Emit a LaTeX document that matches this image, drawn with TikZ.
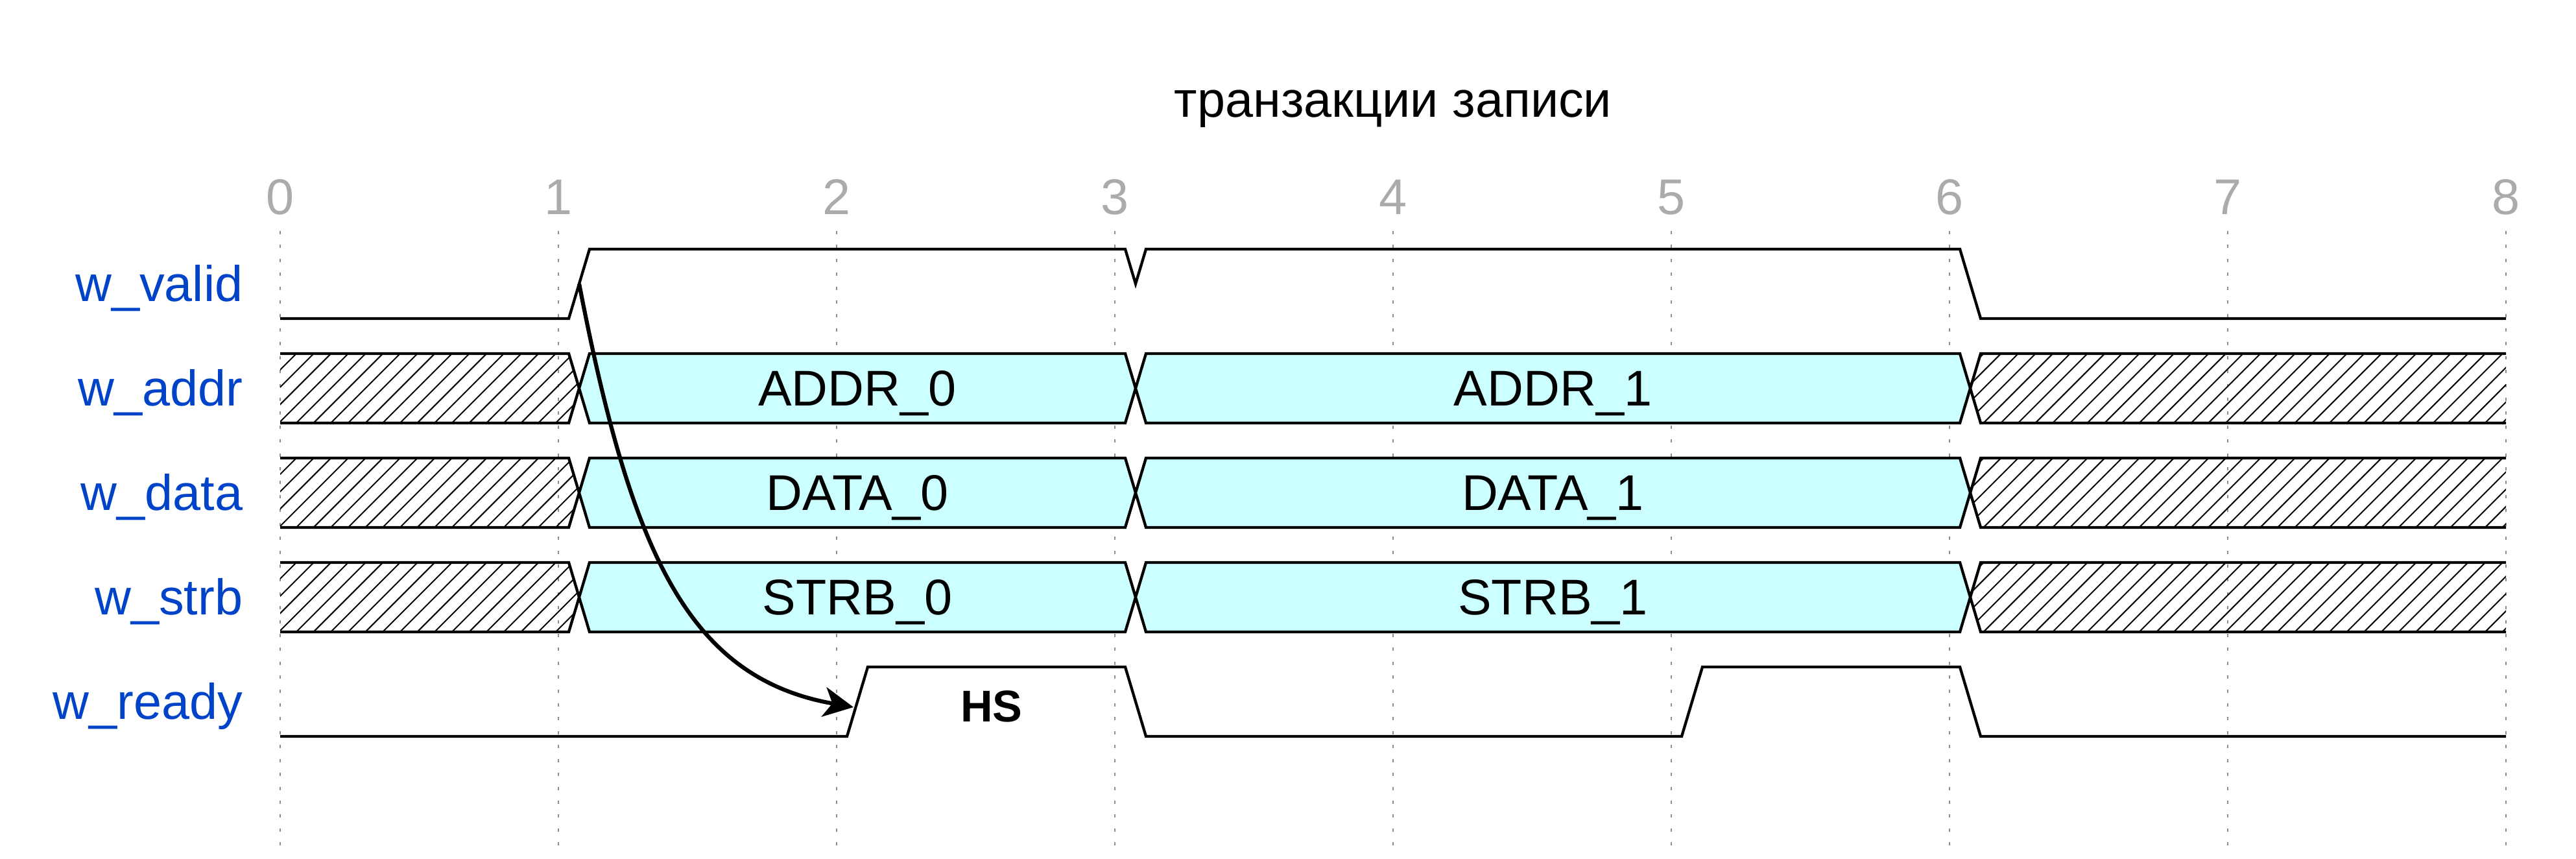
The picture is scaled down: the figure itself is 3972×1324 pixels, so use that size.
\documentclass[tikz,border=0pt]{standalone}
\usepackage{fontspec}
\setmainfont{Liberation Sans}
\usetikzlibrary{arrows.meta}
\definecolor{sigblue}{HTML}{0042C8}
\definecolor{tickgray}{HTML}{ABABAB}
\definecolor{gridgray}{HTML}{8C8C8C}
\definecolor{buscyan}{HTML}{CCFFFF}
\begin{document}
\begin{tikzpicture}[x=0.01cm,y=0.01cm,
  sig/.style={line width=0.043cm, line join=miter},
  hatchline/.style={line width=0.02cm},
  gridline/.style={gridgray, line width=0.022cm, dash pattern=on 0.05cm off 0.164cm},
  lbl/.style={text=sigblue, anchor=base east, inner sep=0pt, font=\fontsize{22pt}{26pt}\selectfont},
  ticklbl/.style={text=tickgray, anchor=base, inner sep=0pt, font=\fontsize{22pt}{26pt}\selectfont},
  val/.style={anchor=base, inner sep=0pt, font=\fontsize{22pt}{26pt}\selectfont},
  ttl/.style={anchor=base, inner sep=0pt, font=\fontsize{22pt}{26pt}\selectfont},
  hs/.style={anchor=base, inner sep=0pt, font=\bfseries\fontsize{19.5pt}{24pt}\selectfont},
  arr/.style={line width=0.062cm, -{Stealth[length=0.46cm,width=0.46cm,inset=0.13cm]}},
]
\useasboundingbox (0,0) rectangle (3972,-1324);

% title
\node[ttl] (title) at (2148,-180) {транзакции записи};

% time ticks and grid
\foreach \t in {0,...,8}{
  \node[ticklbl] (tick\t) at ({432+429*\t},-330) {\t};
  \draw[gridline] ({432+429*\t},-356) -- ({432+429*\t},-1312);
}

% signal names
\node[lbl] (lvalid) at (375,-464.5) {w\_valid};
\node[lbl] (laddr) at (375,-625.5) {w\_addr};
\node[lbl] (ldata) at (375,-786.5) {w\_data};
\node[lbl] (lstrb) at (375,-947.5) {w\_strb};
\node[lbl] (lready) at (375,-1108.5) {w\_ready};

% w_valid
\draw[sig] (432,-491) -- (877,-491) -- (909,-384) -- (1735,-384) -- (1751,-437.5)
  -- (1767,-384) -- (3022,-384) -- (3054,-491) -- (3864,-491);

% buses
\foreach \T/\nm/\va/\vb in {545/addr/ADDR\_0/ADDR\_1, 706/data/DATA\_0/DATA\_1, 867/strb/STRB\_0/STRB\_1}{
  \pgfmathsetmacro{\B}{\T+107}
  \pgfmathsetmacro{\M}{\T+53.5}
  % left hatched
  \begin{scope}
    \clip (432,-\T) -- (877,-\T) -- (893,-\M) -- (877,-\B) -- (432,-\B) -- cycle;
    \foreach \k in {0,...,22}{
      \draw[hatchline] ({350+26.67*\k},-\B) -- ++(120,120);
    }
  \end{scope}
  \draw[sig] (432,-\T) -- (877,-\T) -- (893,-\M) -- (877,-\B) -- (432,-\B);
  % right hatched
  \begin{scope}
    \clip (3864,-\T) -- (3054,-\T) -- (3038,-\M) -- (3054,-\B) -- (3864,-\B) -- cycle;
    \foreach \k in {0,...,40}{
      \draw[hatchline] ({2925+26.67*\k},-\B) -- ++(120,120);
    }
  \end{scope}
  \draw[sig] (3864,-\T) -- (3054,-\T) -- (3038,-\M) -- (3054,-\B) -- (3864,-\B);
  % valid data boxes
  \draw[sig, fill=buscyan] (893,-\M) -- (909,-\T) -- (1735,-\T) -- (1751,-\M) -- (1735,-\B) -- (909,-\B) -- cycle;
  \draw[sig, fill=buscyan] (1751,-\M) -- (1767,-\T) -- (3022,-\T) -- (3038,-\M) -- (3022,-\B) -- (1767,-\B) -- cycle;
  \node[val] (\nm0) at (1322,{-\M-27}) {\va};
  \node[val] (\nm1) at (2394.5,{-\M-27}) {\vb};
}

% w_ready
\draw[sig] (432,-1135) -- (1306,-1135) -- (1338,-1028) -- (1735,-1028) -- (1767,-1135)
  -- (2593,-1135) -- (2625,-1028) -- (3022,-1028) -- (3054,-1135) -- (3864,-1135);

\node[hs] (hs) at (1529,-1112) {HS};

% handshake arrow
\coordinate (vrise) at (893,-437.5);
\coordinate (rrise) at (1316,-1090);
\draw[arr] (vrise) .. controls +(-79:420) and +(170:260) .. (rrise);
\end{tikzpicture}
\end{document}
